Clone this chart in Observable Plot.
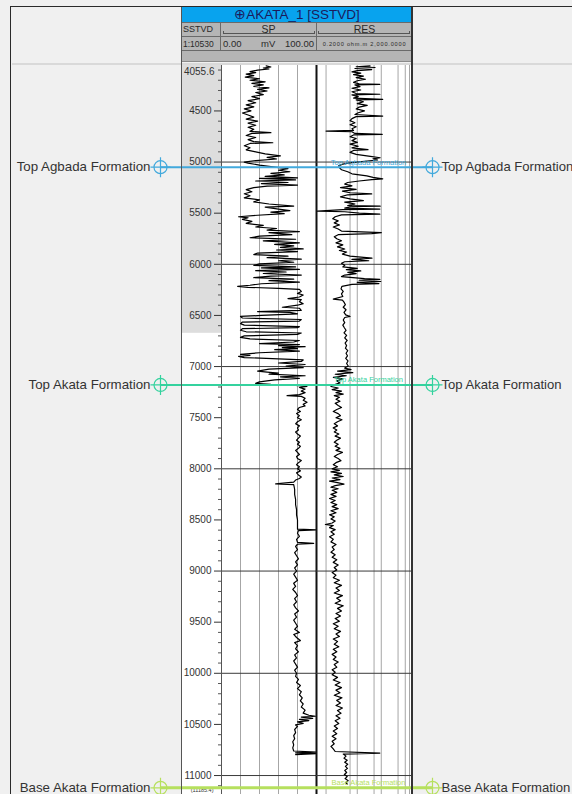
<!DOCTYPE html>
<html>
<head>
<meta charset="utf-8">
<script src="https://cdn.jsdelivr.net/npm/d3@7"></script>
<script src="https://cdn.jsdelivr.net/npm/@observablehq/plot@0.6"></script>
<style>
body{margin:0;background:#f0f0f0;font-family:"Liberation Sans",Arial,sans-serif;}
#wrap{position:relative;width:572px;height:794px;overflow:hidden;background:#f0f0f0;}
.abs{position:absolute;box-sizing:border-box;}
#plots svg{position:absolute;left:0;top:0;}
.hd{position:absolute;color:#2a2a2a;white-space:nowrap;}
</style>
</head>
<body>
<div id="wrap">
  <div class="abs" style="left:10px;top:6px;width:600px;height:800px;border-left:1.5px solid #2a2a2a;border-top:1.5px solid #2a2a2a"></div>
  <div class="abs" style="left:12px;top:63px;width:560px;height:2px;background:#d9d9d9"></div>
  <div class="abs" style="left:181px;top:65px;width:232px;height:729px;background:#ffffff"></div>
  <div id="plots"></div>
  <!-- header -->
  <div class="abs" style="left:181px;top:7px;width:232px;height:15px;background:#08a3ee;color:#1b1b5c;font-size:13.5px;line-height:15px;text-align:center">⊕AKATA_1 [SSTVD]</div>
  <div class="abs" style="left:181px;top:22px;width:232px;height:40px;background:#b5b5b5"></div>
  <div class="abs" style="left:181px;top:22px;width:232px;height:1px;background:#6a6a6a"></div>
  <div class="abs" style="left:181px;top:36px;width:232px;height:1px;background:#6a6a6a"></div>
  <div class="abs" style="left:181px;top:50px;width:232px;height:1px;background:#6a6a6a"></div>
  <div class="abs" style="left:181px;top:61px;width:232px;height:1px;background:#8a8a8a"></div>
  <div class="abs" style="left:220px;top:22px;width:1px;height:28px;background:#6a6a6a"></div>
  <div class="abs" style="left:316px;top:22px;width:1px;height:28px;background:#6a6a6a"></div>
  <div class="hd" style="left:183px;top:24px;font-size:9px">SSTVD</div>
  <div class="hd" style="left:221px;top:22.5px;width:95px;text-align:center;font-size:10.5px">SP</div>
  <div class="hd" style="left:317px;top:22.5px;width:95px;text-align:center;font-size:10.5px">RES</div>
  <div class="abs" style="left:223px;top:31px;width:92px;height:3px;border:1px solid #555;border-top:none"></div>
  <div class="abs" style="left:318px;top:31px;width:92px;height:3px;border:1px solid #555;border-top:none"></div>
  <div class="hd" style="left:183px;top:38.5px;font-size:8.5px">1:10530</div>
  <div class="hd" style="left:223px;top:37.5px;font-size:9.5px">0.00</div>
  <div class="hd" style="left:261px;top:37.5px;font-size:9.5px">mV</div>
  <div class="hd" style="left:240px;top:37.5px;width:74px;text-align:right;font-size:9.5px">100.00</div>
  <div class="hd" style="left:317px;top:40.5px;width:95px;text-align:center;font-size:5.6px;letter-spacing:0.8px">0.2000 ohm.m 2,000.0000</div>
  <div class="abs" style="left:181px;top:7px;width:1px;height:787px;background:#555"></div>
  <div class="abs" style="left:411px;top:7px;width:2px;height:787px;background:#333"></div>
</div>
<script>
// ---- data ----
const topDepth = 4055.6;
const bottomDepth = 11185.4;
const majorTicks = [4500,5000,5500,6000,6500,7000,7500,8000,8500,9000,9500,10000,10500,11000];
const depthGrid = [5000,6000,7000,8000,9000,10000,11000];
const spGrid = [20,40,60,80];
const resGrid = [0.5,5,10,50,100,500,1000,1500];
const grayZone = [topDepth, 6675];
const formationNames = ["Top Agbada Formation","Top Akata Formation","Base Akata Formation"];
const formationDepths = [5050, 7180, 11120];

// SP curve [depth ft, mV]
const spLog = [
[4060,47],[4070,52],[4080,44],[4090,50],[4100,38],[4115,30],[4125,36],[4140,26],[4155,34],[4170,25],[4185,40],[4200,30],[4215,46],[4230,32],[4245,44],[4260,34],[4275,50],[4290,38],[4305,48],[4320,36],[4340,44],[4360,32],[4380,40],[4400,28],[4420,36],[4440,26],[4460,34],[4480,24],[4500,31],[4520,22],[4540,28],[4560,34],[4580,26],[4600,38],[4620,28],[4640,36],[4660,28],[4680,34],[4700,30],[4713,52],[4720,32],[4740,26],[4760,36],[4780,28],[4800,34],[4811,54],[4818,30],[4840,24],[4860,30],[4880,26],[4900,36],[4920,46],[4940,62],[4955,48],[4970,58],[4985,36],[5000,24],[5010,28],
[5030,40],[5050,56],[5065,70],[5080,60],[5095,72],[5110,52],[5125,66],[5140,46],[5155,80],[5160,40],[5175,78],[5185,36],[5200,70],[5210,42],[5225,80],[5235,48],[5250,34],[5270,26],[5290,32],[5310,24],[5330,30],[5350,24],[5370,40],[5390,34],[5410,50],[5430,76],[5440,46],[5460,60],[5475,72],[5490,52],[5505,66],[5520,38],[5535,18],[5545,28],[5560,22],[5580,32],[5600,26],[5620,44],[5635,36],[5650,58],[5665,48],[5680,82],[5690,50],[5710,74],[5725,40],[5740,30],[5755,78],[5770,44],[5790,82],[5805,56],[5820,76],[5835,62],[5850,86],[5860,58],[5875,80],[5890,38],[5905,34],[5920,70],[5935,48],[5950,84],[5965,60],[5980,76],[5995,40],[6010,34],[6025,78],[6035,42],[6050,82],[6062,36],[6075,68],[6090,44],[6105,84],[6115,52],[6130,34],[6145,76],[6160,50],[6175,82],[6190,42],[6205,30],[6215,17],[6225,28],[6235,60],[6245,82],[6265,84],[6285,80],[6300,86],[6320,82],[6335,70],[6345,84],[6365,82],[6385,86],[6400,80],[6420,64],[6430,82],[6450,84],[6462,38],[6470,72],[6485,80],[6500,42],[6510,20],[6525,22],[6540,84],[6555,82],[6565,22],[6580,20],[6595,24],[6610,82],[6620,80],[6630,22],[6645,20],[6660,26],[6672,84],[6685,80],[6700,24],[6715,20],[6730,30],[6745,82],[6760,76],[6775,40],[6785,82],[6795,60],[6805,88],[6815,64],[6825,80],[6835,56],[6850,82],[6865,40],[6880,20],[6890,30],[6900,18],[6912,24],[6925,60],[6935,86],[6950,84],[6965,60],[6980,88],[6995,68],[7010,86],[7025,50],[7045,38],[7055,48],[7065,60],[7075,50],[7090,88],[7100,62],[7115,82],[7130,56],[7150,40],[7165,36],[7175,52],
[7185,78],[7195,90],[7205,82],[7220,88],[7240,84],[7255,88],[7275,82],[7285,69],[7292,84],[7310,88],[7330,86],[7350,90],[7370,86],[7385,88],[7400,82],[7420,80],[7440,83],[7460,79],[7480,82],[7500,80],[7520,84],[7540,80],[7560,78],[7580,82],[7600,80],[7620,81],[7640,78],[7660,80],[7680,83],[7700,81],[7720,79],[7740,82],[7760,80],[7780,83],[7800,81],[7820,78],[7840,80],[7860,82],[7880,79],[7900,80],[7920,84],[7940,81],[7960,79],[7980,82],[8000,80],[8020,83],[8040,79],[8060,81],[8080,84],[8095,82],[8110,78],[8130,76],[8148,57],[8155,76],[8200,77],[8250,77],[8300,78],[8350,78],[8400,79],[8450,79],[8500,80],[8550,80],[8590,80],[8598,100],[8605,81],[8630,80],[8660,82],[8690,79],[8720,80],[8730,97],[8738,80],[8760,78],[8790,80],[8820,77],[8850,79],[8880,81],[8910,78],[8940,80],[8970,77],[9000,79],[9030,76],[9060,78],[9090,80],[9120,76],[9150,78],[9180,75],[9210,78],[9240,80],[9270,77],[9300,79],[9330,76],[9360,78],[9390,81],[9420,77],[9450,79],[9480,76],[9510,78],[9540,80],[9570,77],[9600,82],[9620,76],[9650,79],[9680,83],[9700,77],[9730,80],[9760,78],[9790,81],[9820,77],[9850,79],[9880,76],[9910,78],[9940,80],[9970,77],[10000,79],[10030,78],[10060,81],[10090,79],[10120,83],[10150,80],[10180,84],[10210,82],[10240,85],[10270,83],[10300,86],[10330,84],[10360,88],[10390,86],[10410,92],[10420,99],[10428,84],[10440,96],[10450,82],[10462,92],[10475,80],[10490,86],[10505,78],[10520,80],[10550,77],[10580,78],[10610,76],[10640,77],[10670,75],[10700,76],[10730,75],[10760,76],[10770,100],[10778,78],[10785,100],[10795,78]
];

// RES curve [depth ft, ohm.m]
const resLog = [
[4060,34],[4068,9],[4075,55],[4085,8],[4095,40],[4105,10],[4118,6],[4130,14],[4145,7],[4160,18],[4175,9],[4190,22],[4205,10],[4220,7],[4235,12],[4240,87],[4246,8],[4262,13],[4278,6],[4295,14],[4312,6],[4330,9],[4337,87],[4343,6],[4360,11],[4375,7],[4386,115],[4392,9],[4410,18],[4428,10],[4445,26],[4462,12],[4480,9],[4500,20],[4518,11],[4535,8],[4550,115],[4556,9],[4575,6],[4595,5],[4615,8],[4635,5],[4655,9],[4675,6],[4690,7],[4697,0.5],[4703,6],[4720,8],[4729,110],[4735,7],[4752,5],[4770,9],[4790,6],[4808,10],[4825,5],[4845,11],[4862,6],[4878,28],[4886,7],[4905,5],[4925,9],[4945,35],[4958,90],[4968,45],[4980,70],[4992,20],[5005,6],[5020,2.5],[5035,1.7],[5055,1.8],[5075,2.2],[5095,4],[5115,6],[5135,25],[5150,45],[5165,115],[5172,40],[5185,12],[5200,4],[5215,3],[5232,6],[5250,2],[5268,9],[5285,2.4],[5300,5],[5312,40],[5320,4],[5340,2],[5360,5],[5378,18],[5392,3],[5410,8],[5425,4],[5431,90],[5437,5],[5450,3],[5460,87],[5466,2.5],[5480,0.22],[5486,3],[5500,12],[5510,87],[5516,2.2],[5535,1.2],[5555,0.95],[5575,1.6],[5595,1.1],[5615,1.8],[5635,1.0],[5655,1.6],[5675,2.2],[5690,100],[5700,40],[5710,1.6],[5730,1.1],[5750,1.4],[5770,2.2],[5790,1.3],[5810,2.5],[5830,1.5],[5850,3.0],[5865,1.8],[5880,3.6],[5900,2.4],[5920,5],[5940,41],[5952,6],[5965,30],[5975,3],[5990,2.2],[6010,3],[6025,2.5],[6040,10],[6052,3.5],[6065,14],[6078,4],[6092,9],[6105,3],[6120,2.2],[6140,20],[6148,87],[6156,12],[6168,95],[6176,10],[6188,80],[6196,6],[6215,2.3],[6240,2.1],[6265,2.6],[6290,2.2],[6315,2.5],[6340,1.0],[6350,2.4],[6370,2.8],[6395,3.2],[6420,2.6],[6445,3.4],[6470,2.8],[6495,3.3],[6510,5],[6520,3],[6545,2.6],[6570,3.0],[6595,2.5],[6620,2.9],[6645,3.4],[6670,2.8],[6695,3.6],[6720,3.0],[6745,3.8],[6770,3.1],[6795,3.6],[6820,3.2],[6845,4.0],[6870,3.4],[6895,3.9],[6920,3.3],[6945,4.1],[6970,3.6],[6995,4.2],[7015,3.0],[7030,5.5],[7045,1.5],[7060,6.5],[7075,1.2],[7090,3.5],[7105,1.0],[7120,2.5],[7140,1.4],[7160,1.9],[7180,1.0],
[7195,0.8],[7210,1.6],[7225,0.9],[7240,2.2],[7255,1.3],[7270,2.6],[7285,1.1],[7300,1.8],[7320,1.3],[7340,1.9],[7360,1.2],[7380,1.6],[7400,2.2],[7420,1.4],[7440,1.0],[7460,1.6],[7480,2.0],[7500,1.3],[7520,2.3],[7540,1.5],[7560,1.1],[7580,1.5],[7600,1.0],[7620,1.4],[7640,1.1],[7660,1.7],[7680,1.2],[7700,2.0],[7720,1.4],[7740,1.1],[7760,1.6],[7780,1.2],[7800,1.9],[7820,1.3],[7840,2.4],[7860,1.5],[7880,1.1],[7900,1.6],[7920,2.1],[7940,1.3],[7960,1.0],[7980,1.5],[8000,0.9],[8015,1.8],[8030,0.8],[8045,2.2],[8060,1.1],[8075,2.6],[8090,0.9],[8105,1.9],[8120,0.7],[8135,1.5],[8150,2.8],[8165,1.2],[8180,0.8],[8195,1.6],[8210,0.9],[8230,1.4],[8250,0.8],[8270,1.3],[8290,0.7],[8310,1.2],[8330,0.8],[8350,1.4],[8370,0.9],[8390,1.6],[8410,0.8],[8430,1.3],[8450,0.7],[8470,1.1],[8490,0.8],[8510,1.2],[8530,0.9],[8545,0.47],[8555,1.0],[8575,0.7],[8595,1.2],[8615,0.8],[8640,1.1],[8665,0.7],[8690,1.0],[8715,0.8],[8740,1.3],[8765,0.9],[8790,1.1],[8815,0.8],[8840,1.2],[8865,0.9],[8890,1.4],[8915,1.0],[8940,1.6],[8965,1.1],[8990,1.4],[9015,0.9],[9040,1.3],[9065,1.0],[9090,1.8],[9115,1.1],[9140,2.2],[9165,1.3],[9190,1.8],[9215,1.1],[9240,2.4],[9265,1.4],[9290,2.0],[9315,1.2],[9340,2.6],[9365,1.5],[9390,2.2],[9415,1.3],[9440,2.0],[9465,1.2],[9490,1.8],[9515,1.0],[9540,1.6],[9565,1.1],[9590,2.0],[9615,1.3],[9640,1.8],[9665,1.0],[9690,1.5],[9715,1.1],[9740,1.7],[9765,1.0],[9790,1.4],[9815,0.9],[9840,1.3],[9865,1.0],[9890,1.6],[9915,1.1],[9940,1.4],[9965,0.9],[9990,1.2],[10015,0.9],[10040,1.5],[10065,1.0],[10090,1.9],[10115,1.2],[10140,2.2],[10165,1.3],[10190,1.9],[10215,1.1],[10240,2.3],[10265,1.4],[10290,2.0],[10315,1.3],[10340,2.4],[10365,1.5],[10390,2.1],[10415,1.3],[10440,1.9],[10465,1.2],[10490,1.7],[10515,1.1],[10540,1.5],[10565,1.0],[10590,1.4],[10615,0.9],[10640,1.3],[10665,0.9],[10690,1.1],[10715,0.8],[10740,1.0],[10765,1.2],[10780,87],[10790,2.6],[10810,3.4],[10830,2.8],[10850,3.8],[10870,3.0],[10890,4.0],[10910,3.2],[10930,3.9],[10950,3.0],[10970,3.6],[10990,2.9],[11010,3.8],[11030,3.1],[11050,4.2],[11070,3.3],[11085,3.9]
];

// ---- styles ----
const FONT = "'Liberation Sans', Arial, sans-serif";
const formationStyle = [
  {color: "#42a9dc", width: 2},
  {color: "#34d29e", width: 2},
  {color: "#b6e05e", width: 3}
];
const H = 794, W = 572, MT = 65;
const yScale = {domain: [topDepth, bottomDepth], reverse: true, axis: null};
const baseStyle = {background: "transparent", fontFamily: FONT, overflow: "visible"};

const plots = document.getElementById("plots");

// depth column shading
plots.appendChild(Plot.plot({
  width: W, height: H, marginTop: MT, marginBottom: 0, marginLeft: 181, marginRight: 351,
  style: baseStyle,
  x: {domain: [0, 1], axis: null},
  y: yScale,
  marks: [
    Plot.rect([grayZone], {y1: d => d[0], y2: d => d[1], fill: "#dddddd"})
  ]
}));

// SP track + depth axis
const minorTicks = d3.range(4100, 11200, 100).filter(d => d % 500 !== 0);
plots.appendChild(Plot.plot({
  width: W, height: H, marginTop: MT, marginBottom: 0, marginLeft: 221, marginRight: 256,
  style: baseStyle,
  x: {domain: [0, 100], axis: null},
  y: yScale,
  marks: [
    Plot.ruleX(spGrid, {stroke: "#a6a6a6", strokeWidth: 1}),
    Plot.ruleY(depthGrid, {stroke: "#3a3a3a", strokeWidth: 1}),
    Plot.ruleX([0], {stroke: "#555", strokeWidth: 1}),
    Plot.line(spLog, {x: d => d[1], y: d => d[0], stroke: "#000", strokeWidth: 1.2}),
    Plot.ruleX([100], {stroke: "#111", strokeWidth: 2}),
    Plot.axisY(minorTicks, {anchor: "left", tickSize: 3, text: null, stroke: "#555"}),
    Plot.axisY(majorTicks, {anchor: "left", tickSize: 7, tickPadding: 3, tickFormat: d => String(d), fill: "#333", stroke: "#333", fontSize: 10}),
    Plot.text([topDepth], {y: d => d, text: d => d.toFixed(1), frameAnchor: "left", textAnchor: "end", lineAnchor: "top", dx: -7, dy: 2, fontSize: 10, fill: "#333"}),
    Plot.text([bottomDepth], {y: d => d, text: d => "(" + d.toFixed(1) + ")", frameAnchor: "left", textAnchor: "end", lineAnchor: "bottom", dx: -8, dy: -3, fontSize: 5.5, fill: "#333"})
  ]
}));

// RES track
plots.appendChild(Plot.plot({
  width: W, height: H, marginTop: MT, marginBottom: 0, marginLeft: 316, marginRight: 160,
  style: baseStyle,
  x: {type: "log", domain: [0.2, 2000], axis: null},
  y: yScale,
  marks: [
    Plot.ruleX(resGrid, {stroke: "#a6a6a6", strokeWidth: 1}),
    Plot.ruleY(depthGrid, {stroke: "#3a3a3a", strokeWidth: 1}),
    Plot.line(resLog, {x: d => d[1], y: d => d[0], stroke: "#000", strokeWidth: 1.2}),
    ...formationNames.map((name, i) => Plot.text([name], {
      y: () => formationDepths[i], frameAnchor: "middle", dx: 4, dy: -5,
      fontSize: 7.5, fill: formationStyle[i].color
    }))
  ]
}));

// formation tops overlay
plots.appendChild(Plot.plot({
  width: W, height: H, marginTop: MT, marginBottom: 0, marginLeft: 160, marginRight: 140,
  style: baseStyle,
  x: {domain: [0, 1], axis: null},
  y: yScale,
  marks: formationNames.flatMap((name, i) => {
    const s = formationStyle[i];
    const d = [formationDepths[i]];
    return [
      Plot.ruleY(d, {stroke: s.color, strokeWidth: s.width}),
      Plot.dot(d, {y: v => v, frameAnchor: "left", r: 6.5, stroke: s.color, strokeWidth: 1.2, fill: "none"}),
      Plot.dot(d, {y: v => v, frameAnchor: "left", r: 6.5, symbol: "plus", stroke: s.color, strokeWidth: 1.2, fill: "none"}),
      Plot.dot(d, {y: v => v, frameAnchor: "right", r: 6.5, stroke: s.color, strokeWidth: 1.2, fill: "none"}),
      Plot.dot(d, {y: v => v, frameAnchor: "right", r: 6.5, symbol: "plus", stroke: s.color, strokeWidth: 1.2, fill: "none"}),
      Plot.text([name], {y: () => formationDepths[i], frameAnchor: "left", textAnchor: "end", dx: -10, fontSize: 13.3, fill: "#333"}),
      Plot.text([name], {y: () => formationDepths[i], frameAnchor: "right", textAnchor: "start", dx: 9, fontSize: 13.1, fill: "#333"})
    ];
  })
}));
</script>
</body>
</html>
